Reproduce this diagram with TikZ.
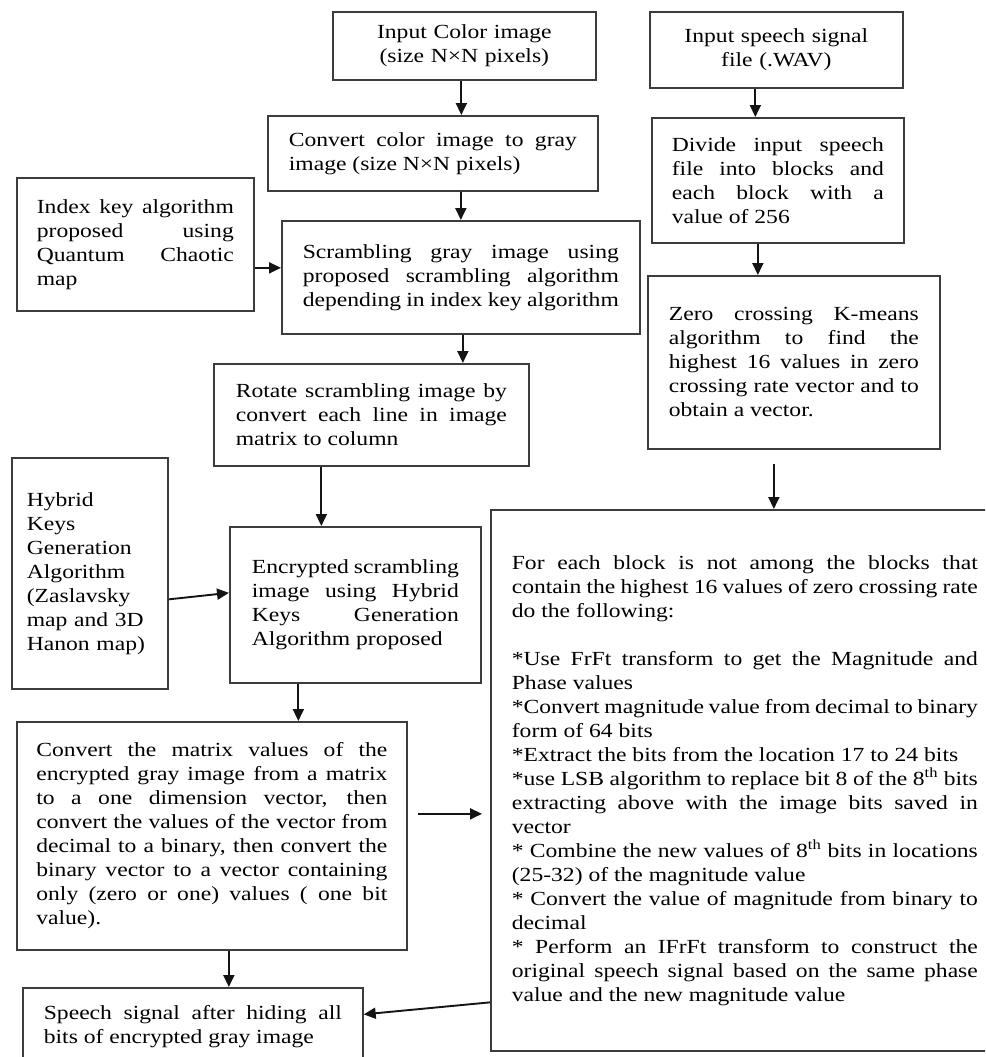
\documentclass[tikz,border=0pt]{standalone}
\usepackage{fontspec}
\setmainfont{Liberation Serif}[FakeStretch=1.18]
\definecolor{boxline}{RGB}{60,60,60}
\definecolor{arrline}{RGB}{20,20,20}
\newcommand\boxfont{\fontsize{20}{24}\selectfont}
\usetikzlibrary{arrows.meta,positioning,calc}

\begin{document}
\begin{tikzpicture}[x=1pt, y=-1pt,
    blk/.style={rectangle, draw=boxline, line width=1.7pt, anchor=north west,
                inner ysep=0pt, align=justify, font=\boxfont},
    arr/.style={-{Triangle[length=12pt,width=11pt]}, line width=1.9pt, arrline}
  ]
    \useasboundingbox (0,0) rectangle (985,1057);
    \clip (0,0) rectangle (985,1057);

    % Image side
    \node[blk, align=center, text width=223pt, inner xsep=20pt, minimum height=68pt]
        (colimg) at (332,11) {Input Color image\\(size N×N pixels)};
    \node[blk, text width=288pt, inner xsep=21pt, minimum height=75pt]
        (gray) at (267,115) {Convert color image to gray\linebreak image (size N×N pixels)};
    \node[blk, text width=197pt, inner xsep=20pt, minimum height=133pt]
        (idx) at (16,177) {Index key algorithm\linebreak proposed using\linebreak Quantum Chaotic\linebreak map};
    \node[blk, text width=316pt, inner xsep=21pt, minimum height=113pt]
        (scr) at (281,220) {Scrambling gray image using\linebreak proposed scrambling algorithm\linebreak depending in index key algorithm};
    \node[blk, text width=271pt, inner xsep=22pt, minimum height=102pt]
        (rot) at (213,363) {Rotate scrambling image by\linebreak convert each line in image\linebreak matrix to column};
    \node[blk, align=left, text width=126pt, inner xsep=15pt, minimum height=231pt]
        (hyb) at (11,457) {Hybrid\\Keys\\Generation\\Algorithm\\(Zaslavsky\\map and 3D\\Hanon map)};
    \node[blk, text width=207pt, inner xsep=22pt, minimum height=156pt]
        (enc) at (229,526) {Encrypted scrambling\linebreak image using Hybrid\linebreak Keys Generation\linebreak Algorithm proposed};
    \node[blk, text width=351pt, inner xsep=19.5pt, minimum height=228pt]
        (vec) at (16,721) {Convert the matrix values of the\linebreak encrypted gray image from a matrix\linebreak
        to a one dimension vector, then\linebreak convert the values of the vector from\linebreak
        decimal to a binary, then convert the\linebreak binary vector to a vector containing\linebreak
        only (zero or one) values ( one bit\linebreak value).};
    \node[blk, text width=298pt, inner xsep=21pt, minimum height=77pt]
        (out) at (22,987) {Speech signal after hiding all\linebreak bits of encrypted gray image};

    % Speech side
    \node[blk, align=center, text width=213pt, inner xsep=20pt, minimum height=76pt]
        (wav) at (649,11) {Input speech signal\\file (.WAV)};
    \node[blk, text width=212pt, inner xsep=20pt, minimum height=125pt]
        (div) at (651,117) {Divide input speech\linebreak file into blocks and\linebreak each block with a\linebreak value of 256};
    \node[blk, text width=250pt, inner xsep=21pt, minimum height=173pt]
        (zcr) at (647,275) {Zero crossing K-means\linebreak algorithm to find the\linebreak highest 16 values in zero\linebreak
        crossing rate vector and to\linebreak obtain a vector.};
    \node[blk, text width=466pt, inner xsep=21pt, minimum height=541pt]
        (embed) at (490,509) {For each block is not among the blocks that\linebreak
        contain the highest 16 values of zero crossing rate\linebreak do the following:\newline\mbox{}\newline
        *Use FrFt transform to get the Magnitude and\linebreak Phase values\newline
        *Convert magnitude value from decimal to binary\linebreak form of 64 bits\newline
        *Extract the bits from the location 17 to 24 bits\newline
        *use LSB algorithm to replace bit 8 of the 8\textsuperscript{th} bits\linebreak
        extracting above with the image bits saved in\linebreak vector\newline
        * Combine the new values of 8\textsuperscript{th} bits in locations\linebreak
        (25-32) of the magnitude value\newline
        * Convert the value of magnitude from binary to\linebreak decimal\newline
        * Perform an IFrFt transform to construct the\linebreak
        original speech signal based on the same phase\linebreak
        value and the new magnitude value};

    % Free ends
    \coordinate (gapL) at ([xshift=10pt, yshift=22pt]vec.east);
    \coordinate (gapR) at ([xshift=-8pt]embed.west |- gapL);
    \coordinate (zcrout) at ([xshift=-20pt, yshift=-14pt]zcr.south);

    % Connections
    \draw[arr] ([xshift=-3pt]colimg.south) -- ([xshift=-3pt]colimg.south |- gray.north);
    \draw[arr] (scr.north |- gray.south) -- (scr.north);
    \draw[arr] ([yshift=-23.5pt]idx.east) -- ([yshift=-23.5pt]idx.east -| scr.west);
    \draw[arr] ([xshift=2pt]scr.south) -- ([xshift=2pt]scr.south |- rot.north);
    \draw[arr] ([xshift=-50pt]rot.south) -- ([xshift=-50pt]rot.south |- enc.north);
    \draw[arr] ([yshift=-26pt]hyb.east) -- ([yshift=12pt]enc.west);
    \draw[arr] ([xshift=-57pt]enc.south) -- ([xshift=-57pt]enc.south |- vec.north);
    \draw[arr] ([xshift=17pt]vec.south) -- ([xshift=17pt]vec.south |- out.north);
    \draw[arr] ([xshift=-21pt]wav.south) -- ([xshift=-21pt]wav.south |- div.north);
    \draw[arr] ([xshift=-20pt]div.south) -- ([xshift=-20pt]div.south |- zcr.north);
    \draw[arr] (zcrout) -- (zcrout |- embed.north);
    \draw[arr] (gapL) -- (gapR);
    \draw[arr] ([yshift=-222pt]embed.west) -- ([yshift=12pt]out.east);
  \end{tikzpicture}
\end{document}
